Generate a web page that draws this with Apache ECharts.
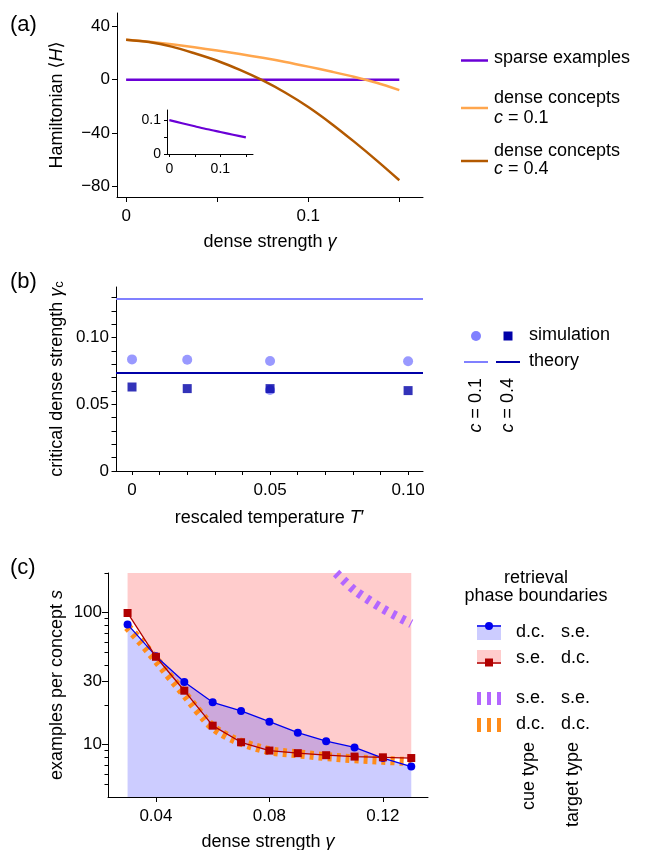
<!DOCTYPE html>
<html>
<head>
<meta charset="utf-8">
<script src="https://cdn.jsdelivr.net/npm/echarts@6/dist/echarts.min.js"></script>
<style>
  html, body { margin: 0; padding: 0; background: #fff; }
  #main { width: 646px; height: 850px; }
</style>
</head>
<body>
<div id="main"></div>
<script>
// ---- (a) Hamiltonian vs dense strength ----
var gammaA = [0, 0.0125, 0.025, 0.0375, 0.05, 0.0625, 0.075, 0.0875, 0.1, 0.1125, 0.125, 0.1375, 0.15];
var sparseH = [0, 0, 0, 0, 0, 0, 0, 0, 0, 0, 0, 0, 0];
var dense01H = [30, 28.4, 26.5, 24.3, 21.8, 19.2, 16.4, 13.3, 9.8, 6.1, 2.2, -2.3, -7.8];
var dense04H = [30, 28.2, 24.8, 19.8, 14.2, 7.3, -0.6, -9.8, -20.5, -32.8, -46.3, -60.5, -75.4];
// inset: sparse examples zoomed
var gammaInset = [0, 0.025, 0.05, 0.075, 0.1, 0.125, 0.15];
var sparseInset = [0.100, 0.091, 0.082, 0.073, 0.065, 0.057, 0.049];

// ---- (b) critical dense strength vs temperature ----
var tempB = [0, 0.02, 0.05, 0.10];
var simC01 = [0.0837, 0.0835, 0.0825, 0.0823];
var simC04 = [0.0630, 0.0618, 0.0618, 0.0603];
var simC01Low = [[0.05, 0.0607]];
var theoryC01 = 0.129;
var theoryC04 = 0.074;

// ---- (c) phase boundaries ----
var gammaC = [0.03, 0.04, 0.05, 0.06, 0.07, 0.08, 0.09, 0.10, 0.11, 0.12, 0.13];
var dcSe = [81.5, 46.8, 29.8, 20.9, 18.0, 14.9, 12.3, 10.6, 9.5, 7.9, 6.8];
var seDc = [99.5, 46.3, 25.6, 13.9, 10.4, 9.0, 8.6, 8.3, 8.1, 8.0, 7.9];
var gammaDD = [0.03, 0.035, 0.04, 0.045, 0.05, 0.055, 0.06, 0.065, 0.07, 0.08, 0.09, 0.10, 0.11, 0.12, 0.13];
var dcDc = [78, 59, 44, 32.5, 24.2, 17.8, 13.6, 11.6, 10.4, 9.0, 8.5, 8.1, 7.8, 7.6, 7.4];
var gammaSS = [0.1035, 0.11, 0.12, 0.13];
var seSe = [200, 148, 107, 82.5];

// ---- ticks ----
var ticksAx = [0, 0.05, 0.1, 0.15], labelsAx = [0, 0.1];
var ticksAy = [-80, -40, 0, 40];
var ticksInsetX = [0, 0.05, 0.1, 0.15], labelsInsetX = [0, 0.1];
var ticksInsetY = [0, 0.05, 0.1], labelsInsetY = [0, 0.1];
var ticksBx = [0, 0.01, 0.02, 0.03, 0.04, 0.05, 0.06, 0.07, 0.08, 0.09, 0.10], labelsBx = [0, 0.05, 0.10];
var ticksBy = [0, 0.01, 0.02, 0.03, 0.04, 0.05, 0.06, 0.07, 0.08, 0.09, 0.10, 0.11, 0.12, 0.13], labelsBy = [0, 0.05, 0.10];
var ticksCx = [0.04, 0.08, 0.12];
var ticksCy = [10, 30, 100];
var minorCy = [5, 6, 7, 8, 9, 20, 40, 50, 60, 70, 80, 90, 200];

var FONT = '"Liberation Sans", Arial, Helvetica, "DejaVu Sans", sans-serif';
var C = {
  purple: '#6a00d6', lightOr: '#ffa64d', darkOr: '#b35900',
  lightB: '#8080ff', darkB: '#0000a8',
  blue: '#0000ee', red: '#b00000', orange: '#ff8c1a', violet: '#b366ff',
  blueFill: 'rgba(85,85,255,0.3)', pinkFill: '#ffcccc'
};
var RICH = {
  i: { fontStyle: 'italic', fontSize: 18, fontFamily: FONT, color: '#000' },
  sub: { fontSize: 13, fontFamily: FONT, color: '#000', verticalAlign: 'bottom' }
};

function pairs(xs, ys) {
  return xs.map(function (x, i) { return [x, ys[i]]; });
}
function fmtMinus(v) { return v < 0 ? '\u2212' + Math.abs(v) : String(v); }
function fmt2(v) { return v === 0 ? '0' : v.toFixed(2); }

function makeAxis(o) {
  return {
    type: o.type || 'value',
    gridIndex: o.grid,
    min: o.min,
    max: o.max,
    logBase: o.logBase,
    position: o.position,
    offset: 0,
    name: o.name || '',
    nameLocation: 'middle',
    nameGap: o.nameGap || 0,
    nameTextStyle: { color: '#000', fontSize: 18, fontFamily: FONT, rich: RICH },
    axisLine: { show: o.line !== false, onZero: false, lineStyle: { color: '#000', width: 1 } },
    axisTick: { show: true, inside: false, length: o.tickLen || 5, customValues: o.ticks, lineStyle: { color: '#000', width: 1 } },
    axisLabel: {
      show: !!o.labels, customValues: o.labels, margin: o.margin || 7,
      color: '#000', fontSize: o.fontSize || 17, fontFamily: FONT, formatter: o.fmt
    },
    splitLine: { show: false },
    splitArea: { show: false },
    minorTick: { show: false },
    minorSplitLine: { show: false }
  };
}

var chart = echarts.init(document.getElementById('main'));

var gridBase = { outerBoundsMode: 'none', containLabel: false, show: false };
var option = {
  animation: false,
  backgroundColor: '#fff',
  grid: [
    Object.assign({ left: 117, top: 13, width: 306, height: 184 }, gridBase),
    Object.assign({ left: 167, top: 110, width: 86, height: 44 }, gridBase),
    Object.assign({ left: 116, top: 287, width: 307, height: 184 }, gridBase),
    Object.assign({ left: 108, top: 573, width: 320, height: 224 }, gridBase)
  ],
  xAxis: [
    makeAxis({ grid: 0, min: -0.005, max: 0.163, ticks: ticksAx, labels: labelsAx, margin: 11,
      name: 'dense strength {i|γ}', nameGap: 36 }),
    makeAxis({ grid: 1, min: -0.0045, max: 0.164, ticks: ticksInsetX, labels: labelsInsetX, margin: 8,
      tickLen: 3, fontSize: 14 }),
    makeAxis({ grid: 2, min: -0.0058, max: 0.1054, ticks: ticksBx, labels: labelsBx, margin: 11,
      tickLen: 4, fmt: fmt2, name: 'rescaled temperature {i|T}\u2032', nameGap: 38 }),
    makeAxis({ grid: 3, min: 0.0231, max: 0.1359, ticks: ticksCx, labels: ticksCx, margin: 11,
      fmt: fmt2, name: 'dense strength {i|γ}', nameGap: 36 })
  ],
  yAxis: [
    makeAxis({ grid: 0, min: -88, max: 50, ticks: ticksAy, labels: ticksAy, fmt: fmtMinus,
      name: 'Hamiltonian \u27e8{i|H}\u27e9', nameGap: 51 }),
    makeAxis({ grid: 1, min: 0, max: 0.13, ticks: ticksInsetY, labels: labelsInsetY, margin: 6,
      tickLen: 3, fontSize: 14 }),
    makeAxis({ grid: 2, min: 0, max: 0.138, ticks: ticksBy, labels: labelsBy, fmt: fmt2, tickLen: 4.5,
      name: 'critical dense strength {i|γ}{sub|c}', nameGap: 50 }),
    makeAxis({ grid: 3, type: 'log', logBase: 10, min: 4, max: 200, position: 'left', ticks: ticksCy,
      labels: ticksCy, margin: 6, tickLen: 6, name: 'examples per concept {i|s}', nameGap: 42 }),
    makeAxis({ grid: 3, type: 'log', logBase: 10, min: 4, max: 200, position: 'left', ticks: minorCy,
      line: false, tickLen: 3.5 })
  ],
  series: [
    // (a)
    { type: 'line', xAxisIndex: 0, yAxisIndex: 0, data: pairs(gammaA, sparseH), symbol: 'none',
      lineStyle: { color: C.purple, width: 2.5 }, z: 3 },
    { type: 'line', xAxisIndex: 0, yAxisIndex: 0, data: pairs(gammaA, dense01H), symbol: 'none', smooth: 0.3,
      lineStyle: { color: C.lightOr, width: 2.5 }, z: 3 },
    { type: 'line', xAxisIndex: 0, yAxisIndex: 0, data: pairs(gammaA, dense04H), symbol: 'none', smooth: 0.3,
      lineStyle: { color: C.darkOr, width: 2.5 }, z: 4 },
    { type: 'line', xAxisIndex: 1, yAxisIndex: 1, data: pairs(gammaInset, sparseInset), symbol: 'none', smooth: 0.3,
      lineStyle: { color: C.purple, width: 2.2 }, z: 3 },
    // (b)
    { type: 'scatter', xAxisIndex: 2, yAxisIndex: 2, data: simC01Low, symbol: 'circle', symbolSize: 10,
      itemStyle: { color: C.lightB }, z: 2 },
    { type: 'scatter', xAxisIndex: 2, yAxisIndex: 2, data: pairs(tempB, simC01), symbol: 'circle', symbolSize: 10,
      itemStyle: { color: C.lightB }, z: 3,
      markLine: {
        silent: true, symbol: ['none', 'none'], label: { show: false }, animation: false, precision: 5,
        data: [
          { yAxis: theoryC01, lineStyle: { color: C.lightB, width: 2, type: 'solid' } },
          { yAxis: theoryC04, lineStyle: { color: C.darkB, width: 2, type: 'solid' } }
        ]
      } },
    { type: 'scatter', xAxisIndex: 2, yAxisIndex: 2, data: pairs(tempB, simC04), symbol: 'rect', symbolSize: 9,
      itemStyle: { color: C.darkB }, z: 4 },
    // (c) fills
    { type: 'line', xAxisIndex: 3, yAxisIndex: 3, data: pairs(gammaC, seDc), symbol: 'none',
      lineStyle: { width: 0, opacity: 0 }, areaStyle: { color: C.pinkFill, opacity: 1, origin: 'end' }, z: 1 },
    { type: 'line', xAxisIndex: 3, yAxisIndex: 3, data: pairs(gammaC, dcSe), symbol: 'none',
      lineStyle: { width: 0, opacity: 0 }, areaStyle: { color: C.blueFill, opacity: 1, origin: 'start' }, z: 1 },
    // (c) theory boundaries (dashed)
    { type: 'line', xAxisIndex: 3, yAxisIndex: 3, data: pairs(gammaDD, dcDc), symbol: 'none', smooth: 0.4,
      lineStyle: { color: C.orange, width: 9, type: [4, 5], cap: 'butt' }, z: 2 },
    { type: 'line', xAxisIndex: 3, yAxisIndex: 3, data: pairs(gammaSS, seSe), symbol: 'none', smooth: 0.25,
      lineStyle: { color: C.violet, width: 9, type: [4, 6], cap: 'butt' }, z: 2 },
    // (c) simulation boundaries
    { type: 'line', xAxisIndex: 3, yAxisIndex: 3, data: pairs(gammaC, dcSe), symbol: 'circle', symbolSize: 8,
      lineStyle: { color: C.blue, width: 1.3 }, itemStyle: { color: C.blue }, z: 3 },
    { type: 'line', xAxisIndex: 3, yAxisIndex: 3, data: pairs(gammaC, seDc), symbol: 'rect', symbolSize: 8,
      lineStyle: { color: C.red, width: 1.3 }, itemStyle: { color: C.red }, z: 4 }
  ]
};

// ---- annotations: panel labels and legends ----
function txt(x, y, text, o) {
  o = o || {};
  return {
    type: 'text', x: x, y: y, rotation: o.rot || 0, silent: true,
    style: {
      text: text, fill: '#000', fontSize: o.size || 18, fontFamily: FONT,
      align: o.align || 'left', verticalAlign: 'middle', rich: RICH
    }
  };
}
function seg(x1, y1, x2, y2, color, w) {
  return { type: 'line', silent: true, shape: { x1: x1, y1: y1, x2: x2, y2: y2 }, style: { stroke: color, lineWidth: w } };
}
function box(x, y, w, h, color) {
  return { type: 'rect', silent: true, shape: { x: x, y: y, width: w, height: h }, style: { fill: color } };
}
function dot(cx, cy, r, color) {
  return { type: 'circle', silent: true, shape: { cx: cx, cy: cy, r: r }, style: { fill: color } };
}
var ROT = Math.PI / 2;

var graphics = [
  txt(10, 25, '(a)', { size: 22 }),
  txt(10, 282, '(b)', { size: 22 }),
  txt(10, 568, '(c)', { size: 22 }),
  // legend (a)
  seg(461, 60.5, 488, 60.5, C.purple, 2.5),
  txt(494, 58, 'sparse examples'),
  seg(461, 108, 488, 108, C.lightOr, 2.5),
  txt(494, 98, 'dense concepts'),
  txt(494, 118, '{i|c} = 0.1'),
  seg(461, 161, 488, 161, C.darkOr, 2.5),
  txt(494, 151, 'dense concepts'),
  txt(494, 169, '{i|c} = 0.4'),
  // legend (b)
  dot(476, 336, 5, C.lightB),
  box(503.5, 331.5, 9, 9, C.darkB),
  txt(529, 335, 'simulation'),
  seg(464, 362, 488, 362, C.lightB, 2),
  seg(496, 362, 520, 362, C.darkB, 2),
  txt(529, 361, 'theory'),
  txt(476, 378, '{i|c} = 0.1', { rot: ROT, align: 'right' }),
  txt(508, 378, '{i|c} = 0.4', { rot: ROT, align: 'right' }),
  // legend (c)
  txt(536, 578, 'retrieval', { align: 'center' }),
  txt(536, 596, 'phase boundaries', { align: 'center' }),
  box(477, 625, 24, 15, '#ccccff'),
  seg(477, 626, 501, 626, C.blue, 1.5),
  dot(489, 626, 4, C.blue),
  txt(516, 632, 'd.c.'), txt(561, 632, 's.e.'),
  box(477, 650, 24, 14, C.pinkFill),
  seg(477, 663, 501, 663, C.red, 1.5),
  box(485, 658.5, 8, 8, C.red),
  txt(516, 658, 's.e.'), txt(561, 658, 'd.c.'),
  box(477, 692, 4, 13, C.violet), box(487, 692, 4, 13, C.violet), box(497, 692, 4, 13, C.violet),
  txt(516, 698, 's.e.'), txt(561, 698, 's.e.'),
  box(477, 718, 4, 14, C.orange), box(487, 718, 4, 14, C.orange), box(497, 718, 4, 14, C.orange),
  txt(516, 724, 'd.c.'), txt(561, 724, 'd.c.'),
  txt(529, 742, 'cue type', { rot: ROT, align: 'right' }),
  txt(573, 742, 'target type', { rot: ROT, align: 'right' })
];
option.graphic = { elements: graphics };

chart.setOption(option);
</script>
</body>
</html>
